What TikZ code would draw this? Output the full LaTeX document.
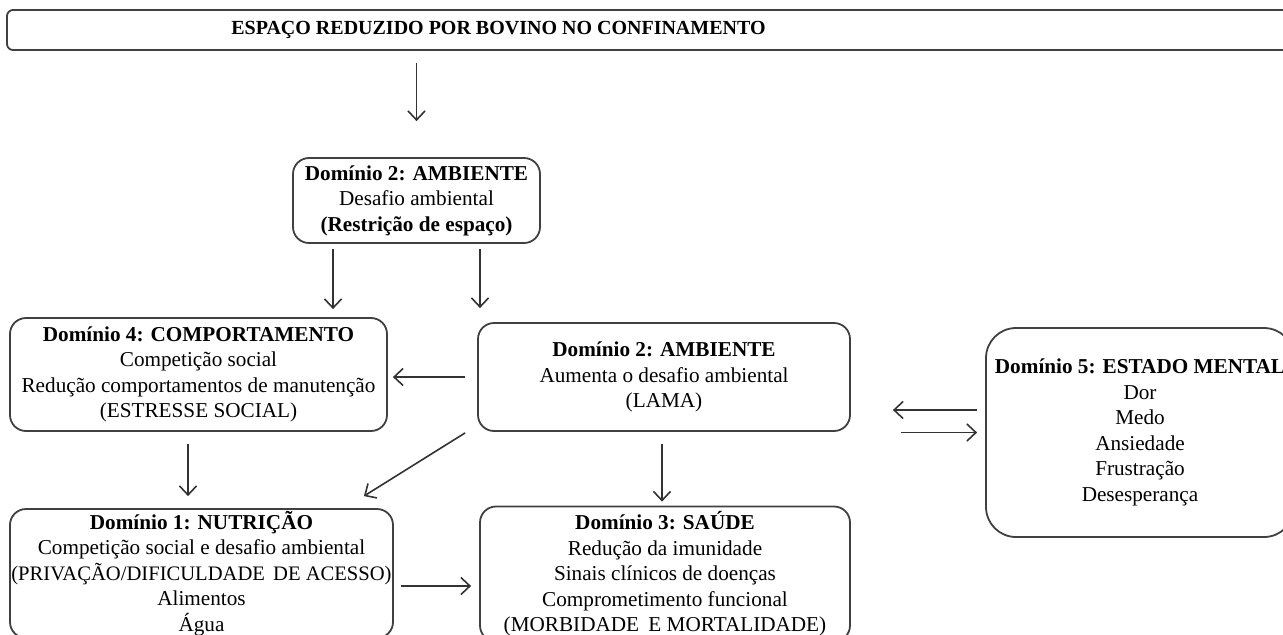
\documentclass[tikz,border=0pt]{standalone}
\usepackage{fontspec}
\setmainfont{Liberation Serif}
\usetikzlibrary{arrows.meta}
\tikzset{
	caixa/.style={draw=black!75, line width=0.9pt, rounded corners=8pt, align=center, inner sep=0pt, font=\fontsize{10.6}{12.75}\selectfont},
	seta/.style={-{Straight Barb[length=4.5pt,width=8.5pt]}, draw=black!80, line width=0.8pt}
}
\begin{document}
\begin{tikzpicture}[x=0.5pt, y=-0.5pt]
					\useasboundingbox (0,0) rectangle (1283,634);
					\clip (0,0) rectangle (1283,634);
					\node[caixa, rounded corners=3pt, minimum width=646.5pt, minimum height=20pt, font=\fontsize{10}{12}\selectfont\bfseries] (topo)at(653.5, 30) {ESPAÇO REDUZIDO POR BOVINO NO CONFINAMENTO\hspace*{155pt}};
					\node[caixa, minimum width=123.5pt, minimum height=42.5pt] (amb1)at(416.5, 200.5) {\textbf{Domínio 2: AMBIENTE}\\Desafio ambiental\\\textbf{(Restrição de espaço)}};
					\node[caixa, minimum width=188.5pt, minimum height=56.5pt] (d4)at(198.5, 374.5) {\textbf{Domínio 4: COMPORTAMENTO}\\Competição social\\Redução comportamentos de manutenção\\(ESTRESSE SOCIAL)};
					\node[caixa, minimum width=186pt, minimum height=54pt] (amb2)at(664, 377) {\textbf{Domínio 2: AMBIENTE}\\Aumenta o desafio ambiental\\(LAMA)};
					\node[caixa, rounded corners=15pt, minimum width=154pt, minimum height=104.5pt] (d5)at(1140, 432.5) {\textbf{Domínio 5: ESTADO MENTAL}\\Dor\\Medo\\Ansiedade\\Frustração\\Desesperança};
					\node[caixa, minimum width=191.5pt, minimum height=64.5pt] (d1)at(201.5, 573.5) {\textbf{Domínio 1: NUTRIÇÃO}\\Competição social e desafio ambiental\\\makebox[0pt]{\fontsize{10.3}{12.75}\selectfont(PRIVAÇÃO/DIFICULDADE\hspace{1.5pt} DE ACESSO)}\\Alimentos\\Água};
					\node[caixa, minimum width=185pt, minimum height=67.5pt] (d3)at(665, 574) {\textbf{Domínio 3: SAÚDE}\\Redução da imunidade\\Sinais clínicos de doenças\\Comprometimento funcional\\(MORBIDADE\hspace{2pt} E MORTALIDADE)};
					\draw[seta, shorten <=6pt, shorten >=18pt] (topo.south -| amb1.north) -- (amb1.north);
					\draw[seta, shorten <=2.5pt, shorten >=4pt] ([xshift=-41.75pt]amb1.south) -- ([xshift=-41.75pt]amb1.south |- d4.north);
					\draw[seta, shorten <=2.5pt, shorten >=7pt] ([xshift=31.75pt]amb1.south) -- ([xshift=31.75pt]amb1.south |- amb2.north);
					\draw[seta, shorten <=6pt, shorten >=2.5pt] (amb2.west) -- (amb2.west -| d4.east);
					\draw[seta] ([shift={(-6pt,-0.5pt)}]amb2.south west) -- ([shift={(-15pt,6pt)}]d1.north east);
					\draw[seta, shorten <=6pt, shorten >=6pt] ([xshift=-5.25pt]d4.south) -- ([xshift=-5.25pt]d4.south |- d1.north);
					\draw[seta, shorten <=6pt, shorten >=2pt] ([xshift=-1pt]amb2.south) -- ([xshift=-1pt]amb2.south |- d3.north);
					\draw[seta, shorten <=4pt, shorten >=21pt] ([yshift=11.25pt]d5.west) -- ([yshift=11.25pt]d5.west -| amb2.east);
					\draw[seta, shorten <=25pt, shorten >=4pt] (d5.west -| amb2.east) -- (d5.west);
					\draw[seta, shorten <=3.5pt, shorten >=4pt] ([yshift=-6.25pt]d1.east) -- ([yshift=-6.25pt]d1.east -| d3.west);
				\end{tikzpicture}
\end{document}
